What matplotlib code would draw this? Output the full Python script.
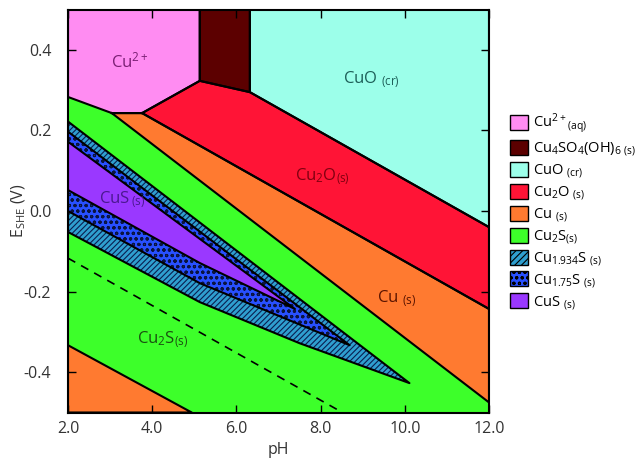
import numpy as np
import matplotlib
matplotlib.use("Agg")
import matplotlib.pyplot as plt
from matplotlib.patches import Polygon, Patch

plt.rcParams['font.family'] = ['Open Sans', 'DejaVu Sans']
plt.rcParams['mathtext.fontset'] = 'custom'
plt.rcParams['mathtext.rm'] = 'Open Sans'
plt.rcParams['mathtext.it'] = 'Open Sans'
plt.rcParams['mathtext.default'] = 'regular'
plt.rcParams['hatch.linewidth'] = 0.8

# Phase boundaries, (pH, E) pairs
pink_green = [(2.0, 0.283), (3.04, 0.243)]
pink_orange = [(3.04, 0.243), (3.76, 0.243)]
pink_red = [(3.76, 0.243), (5.13, 0.323)]
brown_red = [(5.13, 0.323), (6.32, 0.295)]
red_cyan = [(6.32, 0.295), (12.0, -0.040)]
red_orange = [(3.76, 0.243), (12.0, -0.243)]
orange_green = [(3.04, 0.243), (12.0, -0.475)]

# sulfide wedge: upper edges run to each tip, lower edges bend a little
wedge_top = [(2.0, 0.222), (10.11, -0.427)]
c1934_c175_top = [(2.0, 0.197), (8.69, -0.333)]
c175_cus_top = [(2.0, 0.172), (7.39, -0.243)]
cus_c175_low = [(2.0, 0.052), (5.13, -0.129), (7.39, -0.243)]
c175_c1934_low = [(2.0, 0.0), (5.13, -0.179), (8.69, -0.333)]
c1934_cu2s_low = [(2.0, -0.052), (5.13, -0.226), (7.5, -0.328), (10.11, -0.427)]

cu_low = [(2.0, -0.333), (4.94, -0.5)]
dashed = [(2.0, -0.117), (8.52, -0.5)]

colors = {
    'cu2': '#ff8cf2', 'brown': '#5c0000', 'cuo': '#9cffea', 'cu2o': '#ff1436',
    'cu': '#ff7a30', 'cu2s': '#3dff2a', 'c1934': '#2f9fcf', 'c175': '#2850ff',
    'cus': '#9a38ff',
}

fig = plt.figure(figsize=(6.42, 4.62), dpi=100)
ax = fig.add_axes([0.1059, 0.1071, 0.6558, 0.8723])
ax.set_xlim(2.0, 12.0)
ax.set_ylim(-0.5, 0.5)
ax.set_facecolor(colors['cu2s'])


def poly(pts, fc, hatch=None, hc='black', z=1):
    ax.add_patch(Polygon(pts, closed=True, facecolor=fc, edgecolor=hc,
                         hatch=hatch, lw=0, zorder=z))
    xs, ys = zip(*(list(pts) + [pts[0]]))
    ax.plot(xs, ys, color='black', lw=1.5, zorder=z + 0.5,
            solid_joinstyle='round')


poly([(2.0, 0.5), (5.13, 0.5)] + pink_red[::-1] + pink_orange[::-1] + pink_green[::-1],
     colors['cu2'])
poly([(5.13, 0.5), (6.32, 0.5)] + brown_red[::-1], colors['brown'])
poly([(6.32, 0.5), (12.0, 0.5)] + red_cyan[::-1], colors['cuo'])
poly(pink_red + brown_red + red_cyan + red_orange[::-1], colors['cu2o'])
poly(pink_orange + red_orange + orange_green[::-1], colors['cu'])
poly(cu_low + [(2.0, -0.5)], colors['cu'])

poly(wedge_top + c1934_cu2s_low[::-1], colors['c1934'], hatch='//////', hc='#0a1e50', z=2)
poly(c1934_c175_top + c175_c1934_low[::-1], colors['c175'], hatch='ooo', hc='#0a1440', z=3)
poly(c175_cus_top + cus_c175_low[::-1], colors['cus'], z=4)

dx, dy = zip(*dashed)
ax.plot(dx, dy, color='black', lw=1.2, ls=(0, (5, 4)), zorder=5)

# region labels
ax.text(3.47, 0.37, r'Cu$^{2+}$', color='#7a1f74', fontsize=12, ha='center', va='center', zorder=6)
ax.text(9.2, 0.325, r'CuO $_{(cr)}$', color='#1d5f58', fontsize=12, ha='center', va='center', zorder=6)
ax.text(8.05, 0.084, r'Cu$_2$O$_{(s)}$', color='#800010', fontsize=12, ha='center', va='center', zorder=6)
ax.text(9.8, -0.218, r'Cu $_{(s)}$', color='#5a1400', fontsize=12, ha='center', va='center', zorder=6)
ax.text(4.25, -0.32, r'Cu$_2$S$_{(s)}$', color='#1a5010', fontsize=12, ha='center', va='center', zorder=6)
ax.text(3.3, 0.028, r'CuS$\,_{(s)}$', color='#4a1890', fontsize=12, ha='center', va='center', zorder=6)

ax.set_xticks(np.arange(2.0, 12.1, 2.0))
ax.set_xticklabels(['2.0', '4.0', '6.0', '8.0', '10.0', '12.0'])
ax.set_yticks([-0.4, -0.2, 0.0, 0.2, 0.4])
ax.set_yticklabels(['-0.4', '-0.2', '0.0', '0.2', '0.4'])
ax.tick_params(direction='in', length=6, width=1, top=True, right=True,
               labelsize=11.5, labelcolor='#333333', zorder=7)
ax.tick_params(axis='x', pad=6)
ax.tick_params(axis='y', pad=12)
for s in ax.spines.values():
    s.set_linewidth(1.5)
    s.set_zorder(8)
ax.set_xlabel('pH', fontsize=11.5, color='#333333', labelpad=4)
ax.set_ylabel(r'E$_{SHE}$ (V)', fontsize=11.5, color='#333333')
ax.yaxis.set_label_coords(-0.095, 0.5)

handles = [
    Patch(facecolor=colors['cu2'], edgecolor='black'),
    Patch(facecolor=colors['brown'], edgecolor='black'),
    Patch(facecolor=colors['cuo'], edgecolor='black'),
    Patch(facecolor=colors['cu2o'], edgecolor='black'),
    Patch(facecolor=colors['cu'], edgecolor='black'),
    Patch(facecolor=colors['cu2s'], edgecolor='black'),
    Patch(facecolor=colors['c1934'], edgecolor='black', hatch='/////'),
    Patch(facecolor=colors['c175'], edgecolor='black', hatch='ooo'),
    Patch(facecolor=colors['cus'], edgecolor='black'),
]
labels = [
    r'Cu$^{2+}{}_{(aq)}$',
    r'Cu$_4$SO$_4$(OH)$_{6\ (s)}$',
    r'CuO $_{(cr)}$',
    r'Cu$_2$O $_{(s)}$',
    r'Cu $_{(s)}$',
    r'Cu$_2$S$_{(s)}$',
    r'Cu$_{1.934}$S $_{(s)}$',
    r'Cu$_{1.75}$S $_{(s)}$',
    r'CuS $_{(s)}$',
]
fig.legend(handles, labels, loc='upper left', bbox_to_anchor=(510 / 642, 1 - 112 / 462),
           frameon=False, fontsize=10.5, handlelength=1.2, handleheight=1.2,
           handletextpad=0.4, labelspacing=0.25, borderpad=0, borderaxespad=0)

fig.savefig('out.png', dpi=100)
